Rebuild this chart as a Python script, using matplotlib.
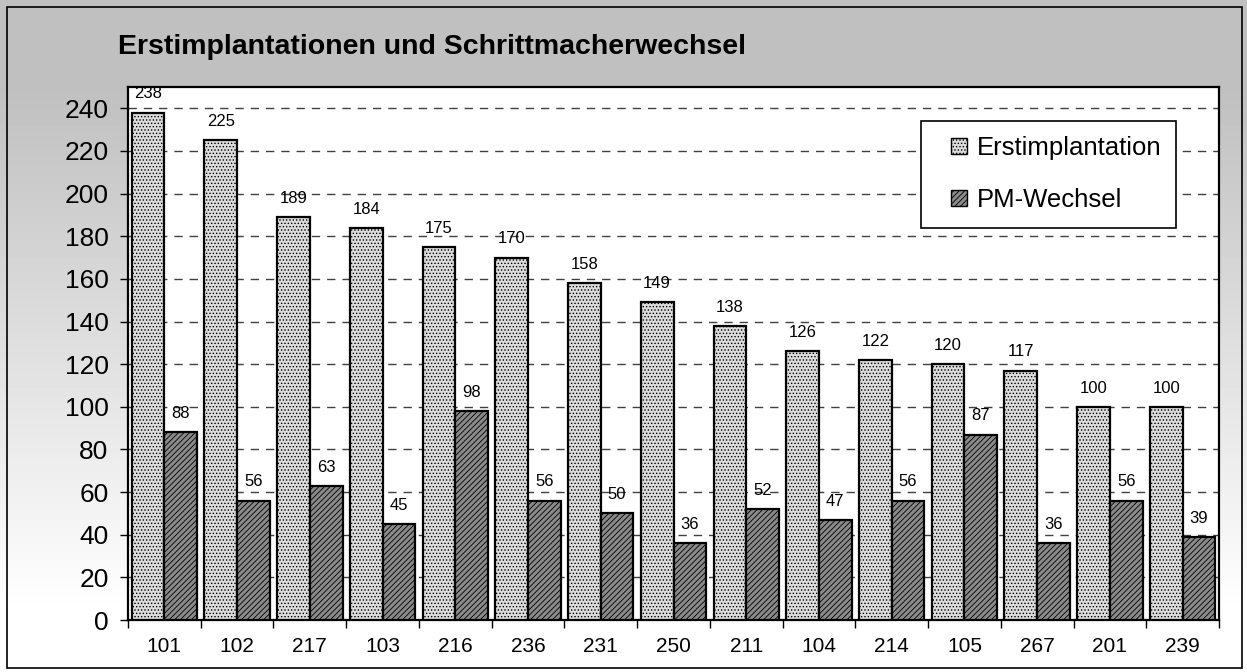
import numpy as np
import matplotlib.pyplot as plt
from matplotlib.patches import Rectangle
from matplotlib.container import BarContainer
from matplotlib.legend_handler import HandlerPatch, update_from_first_child

kategorien = ["101", "102", "217", "103", "216", "236", "231", "250",
              "211", "104", "214", "105", "267", "201", "239"]
erstimplantation = [238, 225, 189, 184, 175, 170, 158, 149, 138, 126, 122, 120, 117, 100, 100]
pm_wechsel = [88, 56, 63, 45, 98, 56, 50, 36, 52, 47, 56, 87, 36, 56, 39]
y_ticks = list(range(0, 241, 20))

plt.rcParams['font.family'] = ['Liberation Sans', 'DejaVu Sans']
plt.rcParams['hatch.linewidth'] = 0.6

fig = plt.figure(figsize=(12.47, 6.72), dpi=100)

# Hintergrund mit Verlauf (grau oben, weiss unten)
bg = fig.add_axes([0, 0, 1, 1], zorder=-10)
h = 672
yy = np.arange(h)
g = np.clip((yy - 90) / 520.0, 0, 1)
g = 0.753 + (1 - 0.753) * g
img = np.tile(g[:, None], (1, 10))
bg.imshow(img, cmap='gray', vmin=0, vmax=1, aspect='auto', extent=[0, 1, 0, 1], origin='upper')
bg.set_xlim(0, 1)
bg.set_ylim(0, 1)
bg.axis('off')
bg.add_patch(Rectangle((7 / 1247, 4 / 672), 1235 / 1247, 661 / 672, fill=False,
                       edgecolor='black', linewidth=1.2, transform=bg.transAxes))

ax = fig.add_axes([128 / 1247, (672 - 620) / 672, (1219 - 128) / 1247, (620 - 87) / 672])
ax.set_facecolor('white')

x = np.arange(len(kategorien))
w = 0.45
b1 = ax.bar(x - w / 2, erstimplantation, w, facecolor='#dcdcdc', edgecolor='black',
            hatch='.....', linewidth=1.6, label='Erstimplantation', zorder=3)
b2 = ax.bar(x + w / 2, pm_wechsel, w, facecolor='#8a8a8a', edgecolor='black',
            hatch='//////', linewidth=1.6, label='PM-Wechsel', zorder=3)

for bars, werte in ((b1, erstimplantation), (b2, pm_wechsel)):
    for rect, v in zip(bars, werte):
        ax.annotate(str(v), (rect.get_x() + rect.get_width() / 2, v),
                    xytext=(0, 8), textcoords='offset points',
                    ha='center', va='bottom', fontsize=12, zorder=4)

ax.set_xlim(-0.5, len(kategorien) - 0.5)
ax.set_ylim(0, 250)
ax.set_yticks(y_ticks)
ax.set_yticklabels([str(t) for t in y_ticks], fontsize=19)
ax.set_xticks(x)
ax.set_xticklabels(kategorien, fontsize=15)
ax.set_xticks(np.arange(len(kategorien) + 1) - 0.5, minor=True)
ax.tick_params(axis='x', which='major', length=0, pad=12)
ax.tick_params(axis='x', which='minor', length=6, width=1, direction='out')
ax.tick_params(axis='y', length=6, width=1, direction='out', pad=8)

ax.yaxis.grid(True, linestyle=(0, (6, 5)), color='#404040', linewidth=1)
ax.set_axisbelow(True)
for s in ax.spines.values():
    s.set_linewidth(1.6)
    s.set_color('black')


def kleines_quadrat(legend, orig_handle, xdescent, ydescent, width, height, fontsize):
    s = height
    return Rectangle((width - s - xdescent, -ydescent), s, s)


quadrat = HandlerPatch(patch_func=kleines_quadrat, update_func=update_from_first_child)
leg = ax.legend(loc='upper left', bbox_to_anchor=(0.727, 0.937), fontsize=18.5,
                frameon=True, fancybox=False, edgecolor='black', framealpha=1,
                handlelength=1.2, handleheight=0.6, labelspacing=1.1,
                borderpad=0.6, handletextpad=0.35, borderaxespad=0,
                handler_map={BarContainer: quadrat})
leg.get_frame().set_linewidth(1.2)
for p in leg.get_patches():
    p.set_linewidth(1.0)

fig.text(118 / 1247, 1 - 47 / 672, 'Erstimplantationen und Schrittmacherwechsel',
         fontsize=20.5, fontweight='bold', ha='left', va='center')

fig.savefig('out.png', dpi=100)
